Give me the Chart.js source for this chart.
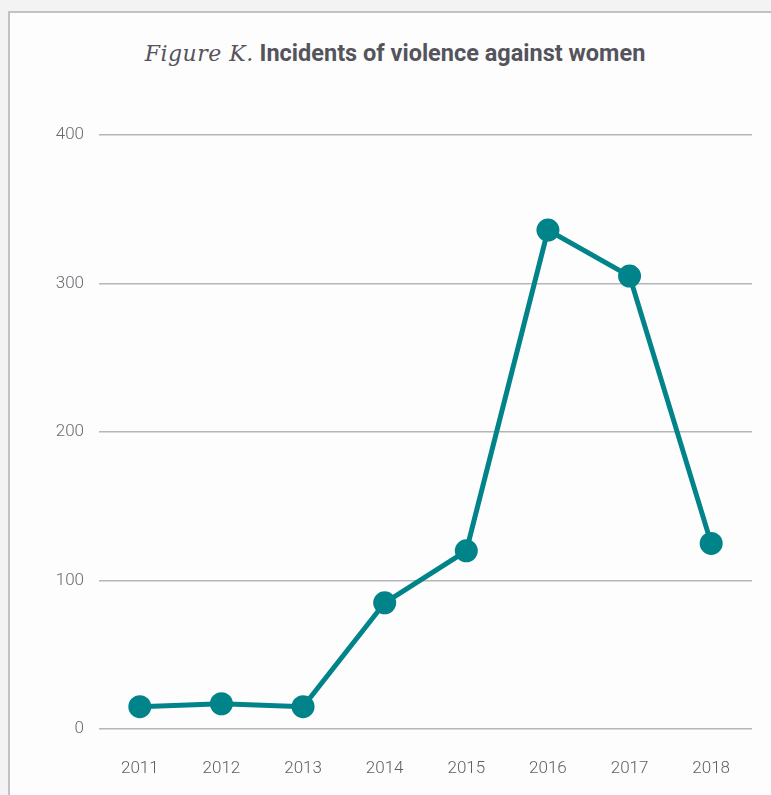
<!DOCTYPE html>
<html>
<head>
<meta charset="utf-8">
<script src="https://cdn.jsdelivr.net/npm/chart.js@4"></script>
<style>
  html, body { margin: 0; padding: 0; background: #f3f3f3; overflow: hidden; }
  .box { position: absolute; left: 8px; top: 11px; width: 800px; height: 820px;
         border: 2px solid #c2c2c4; background: #fdfdfd; }
  .title { position: absolute; left: 0; top: 39px; width: 771px; text-align: center;
           padding-left: 19px; box-sizing: border-box; white-space: nowrap;
           font-family: Roboto, sans-serif; font-weight: 700; font-size: 23.5px; color: #55545c; }
  .title i { font-family: "DejaVu Serif", serif; font-weight: 400; font-style: italic;
             font-size: 22px; letter-spacing: 0.5px; color: #55545c; }
  #wrap { position: absolute; left: 0; top: 0; width: 771px; height: 795px; }
</style>
</head>
<body>
<div class="box"></div>
<div class="title"><i>Figure K.</i> Incidents of violence against women</div>
<div id="wrap"><canvas id="grafico"></canvas></div>
<script>
'use strict'

const years = ['2011', '2012', '2013', '2014', '2015', '2016', '2017', '2018'];
const incidents = [15, 17, 15, 85, 120, 336, 305, 125];
const yTicks = [0, 100, 200, 300, 400];

const teal = '#008489';

const data = {
  labels: years,
  datasets: [{
    label: 'Incidents',
    data: incidents,
    borderColor: teal,
    backgroundColor: teal,
    borderWidth: 5,
    pointRadius: 9,
    pointHoverRadius: 9,
    tension: 0
  }]
};

const tickFont = { family: 'Roboto', size: 17, weight: '300' };

const config = {
  type: 'line',
  data,
  options: {
    responsive: true,
    maintainAspectRatio: false,
    animation: false,
    layout: { padding: { top: 135, right: 19, bottom: 0, left: 0 } },
    plugins: { legend: { display: false }, tooltip: { enabled: false } },
    scales: {
      x: {
        offset: true,
        grid: { display: false, drawTicks: false },
        border: { display: false },
        ticks: { color: '#5f5e66', font: tickFont, padding: 30, maxRotation: 0 },
        afterFit: (s) => { s.height = 66; }
      },
      y: {
        min: 0,
        max: 400,
        afterBuildTicks: (s) => { s.ticks = yTicks.map(v => ({ value: v })); },
        grid: { color: '#b6b6ba', lineWidth: 1.5, drawTicks: false },
        border: { display: false },
        ticks: { color: '#6a6970', font: tickFont, padding: 15 },
        afterFit: (s) => { s.width = 99; }
      }
    }
  }
};

const grafico = new Chart(document.querySelector('#grafico'), config);
</script>
</body>
</html>
